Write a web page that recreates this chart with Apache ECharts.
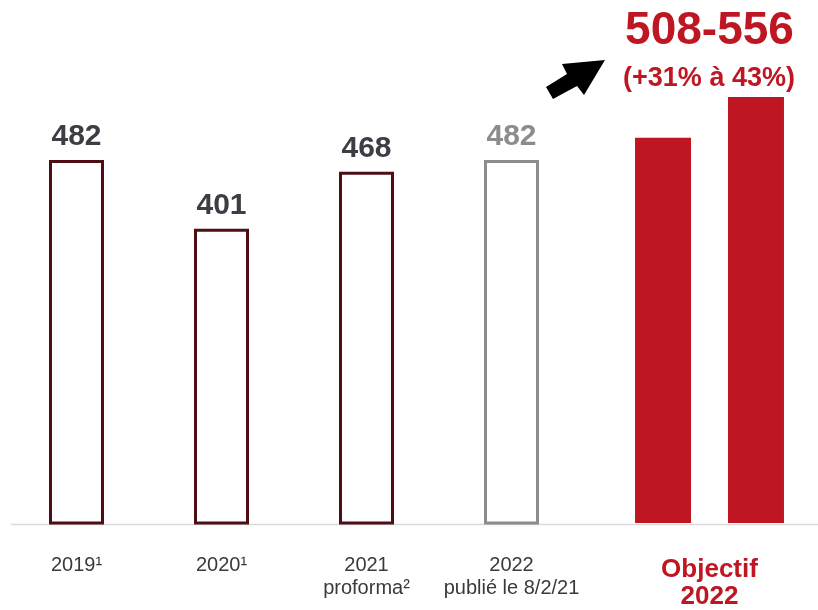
<!DOCTYPE html>
<html>
<head>
<meta charset="utf-8">
<script src="https://cdn.jsdelivr.net/npm/echarts@6/dist/echarts.min.js"></script>
<style>
html,body{margin:0;padding:0;background:#fff;}
#chart{width:818px;height:610px;}
</style>
</head>
<body>
<div id="chart"></div>
<script>
// ---- data ----
var categories = ['2019¹', '2020¹', '2021\nproforma²', '2022\npublié le 8/2/21'];
var values = [482, 401, 468, 482];
var objectifCategory = ['Objectif\n2022'];
var objectifLow = [508];
var objectifHigh = [556];
var rangeTitle = '508-556';
var rangeSubtitle = '(+31% à 43%)';

// ---- styles ----
var FONT = 'Liberation Sans, Arial, sans-serif';
var RED = '#be1622';
var MAROON = '#4e0f14';
var GREY = '#8c8c8c';
var DARK = '#3d3d45';
var Y_MIN = 55, Y_MAX = 556;

var chart = echarts.init(document.getElementById('chart'), null, {renderer: 'canvas'});

var outlinedData = values.map(function (v, i) {
  var last = i === values.length - 1;
  return {
    value: v,
    itemStyle: {color: '#ffffff', borderColor: last ? GREY : MAROON, borderWidth: 3},
    label: {color: last ? GREY : DARK}
  };
});

var option = {
  animation: false,
  backgroundColor: '#ffffff',
  grid: [
    {left: 4, width: 580, top: 97, bottom: 87},
    {left: 601, width: 217, top: 97, bottom: 87}
  ],
  xAxis: [
    {
      type: 'category', gridIndex: 0, data: categories,
      axisLine: {show: false}, axisTick: {show: false},
      axisLabel: {fontFamily: FONT, fontSize: 20, color: '#3a3a3a', lineHeight: 23, margin: 31, interval: 0}
    },
    {
      type: 'category', gridIndex: 1, data: objectifCategory,
      axisLine: {show: false}, axisTick: {show: false},
      axisLabel: {fontFamily: FONT, fontSize: 26, fontWeight: 'bold', color: RED, lineHeight: 27, margin: 33}
    }
  ],
  yAxis: [
    {type: 'value', gridIndex: 0, min: Y_MIN, max: Y_MAX, show: false},
    {type: 'value', gridIndex: 1, min: Y_MIN, max: Y_MAX, show: false}
  ],
  series: [
    {
      type: 'bar', xAxisIndex: 0, yAxisIndex: 0, barWidth: 55,
      data: outlinedData,
      label: {show: true, position: 'top', distance: 8, fontFamily: FONT, fontSize: 30, fontWeight: 'bold'}
    },
    {
      type: 'bar', xAxisIndex: 1, yAxisIndex: 1, barWidth: 56, barGap: '66%',
      data: objectifLow, itemStyle: {color: RED}
    },
    {
      type: 'bar', xAxisIndex: 1, yAxisIndex: 1, barWidth: 56, barGap: '66%',
      data: objectifHigh, itemStyle: {color: RED}
    }
  ],
  graphic: [
    {
      type: 'line', z: 0,
      shape: {x1: 11, y1: 524.5, x2: 818, y2: 524.5},
      style: {stroke: '#d9d9d9', lineWidth: 1.5}
    },
    {
      type: 'text',
      style: {text: rangeTitle, x: 709.5, y: 31, align: 'center', verticalAlign: 'middle',
        font: 'bold 46px ' + FONT, fill: RED}
    },
    {
      type: 'text',
      style: {text: rangeSubtitle, x: 709, y: 78.5, align: 'center', verticalAlign: 'middle',
        font: 'bold 27px ' + FONT, fill: RED}
    },
    {
      type: 'polygon',
      shape: {points: [[546, 87], [567, 74], [562, 64], [605, 60], [584, 95], [577, 86], [553, 99]]},
      style: {fill: '#000000'}
    }
  ]
};
chart.setOption(option);
</script>
</body>
</html>
